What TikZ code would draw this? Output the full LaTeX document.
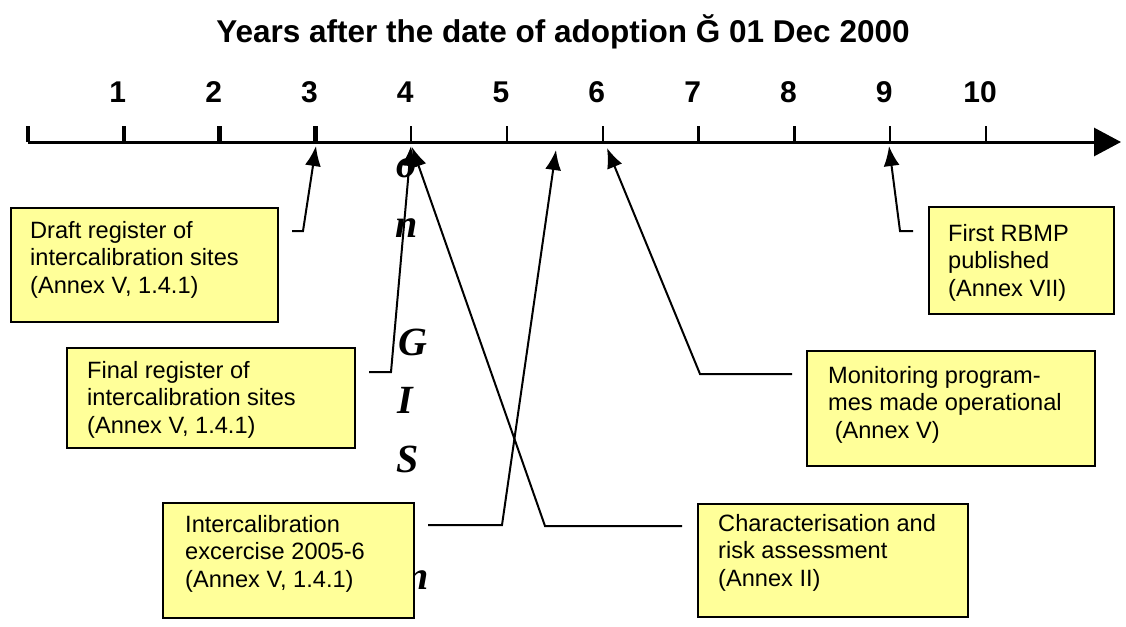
\documentclass[tikz,border=0pt]{standalone}
\usepackage{fontspec}
\setmainfont{Liberation Sans}
\newfontfamily\letterfont{Liberation Serif}
\usetikzlibrary{arrows.meta,calc}
\definecolor{boxyellow}{HTML}{FFFF99}
\begin{document}
\begin{tikzpicture}[x=1pt,y=-1pt,
  box/.style={draw=black, line width=2pt, fill=boxyellow, anchor=north west, inner sep=0pt},
  txt/.style={anchor=north west, inner sep=0pt, align=left, font=\fontsize{23.6}{27.5}\selectfont},
  conn/.style={line width=2pt, line join=miter, -{Latex[length=20pt,width=16pt]}},
  axisline/.style={line width=3pt, -{Triangle[length=27pt,width=28pt]}},
  tickthick/.style={line width=4.5pt},
  tickthin/.style={line width=2.5pt},
  num/.style={anchor=base, inner sep=0pt, font=\bfseries\fontsize{30}{30}\selectfont},
  titlestyle/.style={anchor=base, inner sep=0pt, font=\bfseries\fontsize{31.5}{31.5}\selectfont},
  letter/.style={inner sep=0pt, font=\letterfont\bfseries\itshape\fontsize{40}{40}\selectfont}
]
\useasboundingbox (0,0) rectangle (1126,626);

% title
\node[titlestyle] (title) at (563,42) {Years after the date of adoption Ğ 01 Dec 2000};

% axis
\coordinate (axstart) at (28,142);
\coordinate (axend) at (1121,142);
\draw[axisline] (axstart) -- (axend);
\foreach \k in {0,...,10} {
  \coordinate (t\k) at ({28+95.8*\k},142);
}
\foreach \k in {0,...,3} {
  \draw[tickthick] (t\k) -- ($(t\k)+(0,-16)$);
}
\foreach \k in {4,...,10} {
  \draw[tickthin] (t\k) -- ($(t\k)+(0,-16)$);
}
\foreach \k in {1,...,10} {
  \node[num] (n\k) at ($(t\k)+(-6,-40)$) {\k};
}

% stray letters
\node[letter] (l1) at (406,168) {o};
\node[letter] (l2) at (407,228) {n};
\node[letter] (l3) at (413,342) {G};
\node[letter] (l4) at (405,400) {I};
\node[letter] (l5) at (408,459) {S};
\node[letter] (l6) at (418,580) {n};

% boxes
\node[box, minimum width=267pt, minimum height=114pt] (b1) at (10,207) {};
\node[txt] (b1t) at (30,221) {Draft register of\\intercalibration sites\\(Annex V, 1.4.1)};

\node[box, minimum width=288pt, minimum height=100pt] (b2) at (66,347) {};
\node[txt] (b2t) at (87,361) {Final register of\\intercalibration sites\\(Annex V, 1.4.1)};

\node[box, minimum width=251pt, minimum height=115pt] (b3) at (162,502) {};
\node[txt] (b3t) at (185,515) {Intercalibration\\excercise 2005-6\\(Annex V, 1.4.1)};

\node[box, minimum width=270pt, minimum height=113pt] (b4) at (697,503) {};
\node[txt] (b4t) at (718,514) {Characterisation and\\risk assessment\\(Annex II)};

\node[box, minimum width=288pt, minimum height=115pt] (b5) at (806,350) {};
\node[txt] (b5t) at (828,366) {Monitoring program-\\mes made operational\\\ (Annex V)};

\node[box, minimum width=185pt, minimum height=107pt] (b6) at (928,206) {};
\node[txt] (b6t) at (948,224) {First RBMP\\published\\(Annex VII)};

% connector points
\coordinate (s1) at (292,231); \coordinate (k1) at (303,231); \coordinate (a1) at (316,146);
\coordinate (s2) at (369,372); \coordinate (k2) at (391,372); \coordinate (a2) at (411,146);
\coordinate (s3) at (428,525); \coordinate (k3) at (502,525); \coordinate (a3) at (556,150);
\coordinate (s4) at (682,526); \coordinate (k4) at (545,526); \coordinate (a4) at (412,147);
\coordinate (s5) at (792,374); \coordinate (k5) at (700,374); \coordinate (a5) at (607,148);
\coordinate (s6) at (913,231); \coordinate (k6) at (900,231); \coordinate (a6) at (889,146);

\draw[conn] (s1) -- (k1) -- (a1);
\draw[conn] (s2) -- (k2) -- (a2);
\draw[conn] (s3) -- (k3) -- (a3);
\draw[conn] (s4) -- (k4) -- (a4);
\draw[conn] (s5) -- (k5) -- (a5);
\draw[conn] (s6) -- (k6) -- (a6);
\end{tikzpicture}
\end{document}
